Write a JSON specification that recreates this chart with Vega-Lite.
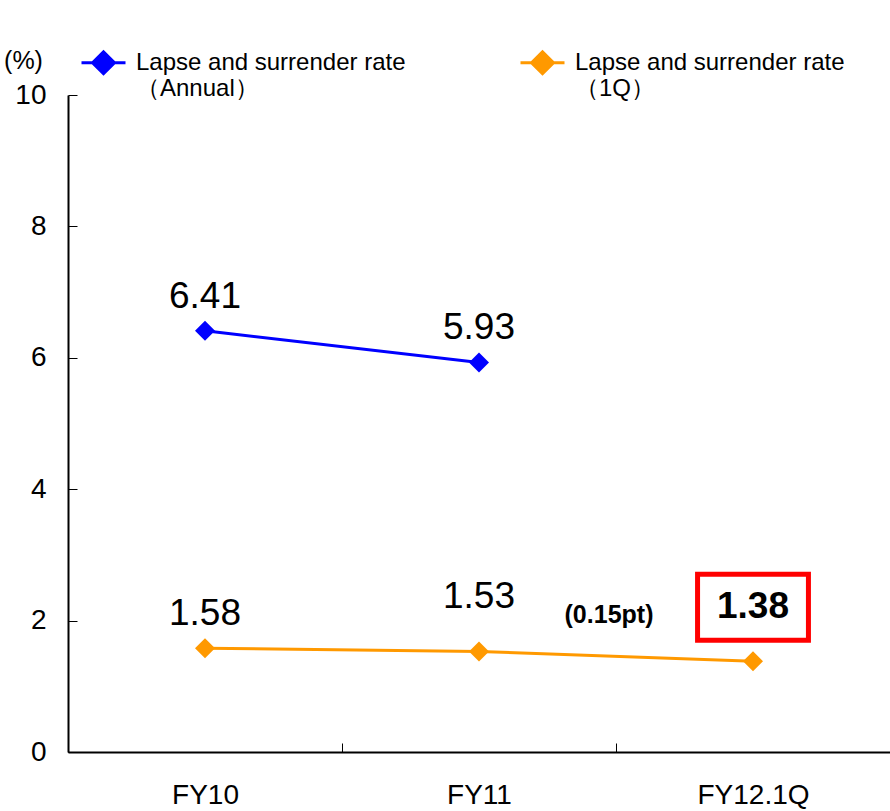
{
  "$schema": "https://vega.github.io/schema/vega-lite/v6.json",
  "width": 822,
  "height": 657,
  "autosize": {"type": "none"},
  "padding": {"left": 68, "top": 95, "right": 0, "bottom": 59},
  "background": "white",
  "config": {
    "font": "Liberation Sans",
    "view": {"stroke": null}
  },
  "datasets": {
    "rates": [
      {"period": "FY10", "series": "Annual", "value": 6.41, "label": "6.41"},
      {"period": "FY11", "series": "Annual", "value": 5.93, "label": "5.93"},
      {"period": "FY10", "series": "1Q", "value": 1.58, "label": "1.58"},
      {"period": "FY11", "series": "1Q", "value": 1.53, "label": "1.53"},
      {"period": "FY12.1Q", "series": "1Q", "value": 1.38, "label": "1.38"}
    ],
    "notes": [
      {"period": "FY12.1Q", "value": 1.38, "note": "(0.15pt)"}
    ]
  },
  "data": {"name": "rates"},
  "encoding": {
    "x": {
      "field": "period",
      "type": "nominal",
      "sort": ["FY10", "FY11", "FY12.1Q"],
      "scale": {"domain": ["FY10", "FY11", "FY12.1Q"], "paddingInner": 0, "paddingOuter": 0},
      "axis": {
        "title": null,
        "labelAngle": 0,
        "labelFontSize": 28,
        "labelColor": "black",
        "labelPadding": 38,
        "tickSize": -9,
        "tickBand": "extent",
        "tickColor": "black",
        "tickWidth": 1,
        "domainColor": "black",
        "domainWidth": 2
      }
    },
    "y": {
      "field": "value",
      "type": "quantitative",
      "scale": {"domain": [0, 10], "nice": false},
      "axis": {
        "values": [0, 2, 4, 6, 8, 10],
        "grid": false,
        "title": "(%)",
        "titleAngle": 0,
        "titleAlign": "center",
        "titleBaseline": "middle",
        "titleX": -45,
        "titleY": -35,
        "titleFontSize": 25,
        "titleFontWeight": "normal",
        "titleColor": "black",
        "labelFontSize": 28,
        "labelColor": "black",
        "labelPadding": 31,
        "tickSize": -9,
        "tickColor": "black",
        "tickWidth": 1,
        "domainColor": "black",
        "domainWidth": 2
      }
    },
    "color": {
      "field": "series",
      "type": "nominal",
      "scale": {"domain": ["Annual", "1Q"], "range": ["#0000FF", "#FF9900"]},
      "legend": {
        "title": null,
        "orient": "none",
        "legendX": 23,
        "legendY": -45,
        "direction": "horizontal",
        "columns": 2,
        "columnPadding": 108,
        "symbolType": "M-2,0H-1M-1,0L0,-1L1,0L0,1ZM1,0H2",
        "symbolSize": 484,
        "symbolStrokeWidth": 3,
        "labelFontSize": 24,
        "labelLineHeight": 29,
        "labelColor": "black",
        "labelOffset": 20,
        "labelLimit": 400,
        "labelExpr": "datum.label == 'Annual' ? ['Lapse and surrender rate', '（Annual）'] : ['Lapse and surrender rate', '（1Q）']",
        "encode": {
          "symbols": {
            "update": {
              "fill": {"signal": "datum.value == 'Annual' ? '#0066FF' : '#FF6600'"},
              "stroke": {"signal": "datum.value == 'Annual' ? '#0066FF' : '#FF6600'"}
            }
          }
        }
      }
    }
  },
  "layer": [
    {"mark": {"type": "line", "strokeWidth": 3}},
    {"mark": {"type": "point", "shape": "diamond", "filled": true, "size": 400, "opacity": 1}},
    {
      "transform": [{"filter": "datum.label != '1.38' && datum.label != '1.53'"}],
      "mark": {"type": "text", "fontSize": 37, "dy": -34, "color": "black"},
      "encoding": {"text": {"field": "label"}, "color": {"value": "black"}}
    },
    {
      "transform": [{"filter": "datum.label == '1.53'"}],
      "mark": {"type": "text", "fontSize": 37, "dy": -54, "color": "black"},
      "encoding": {"text": {"field": "label"}, "color": {"value": "black"}}
    },
    {
      "transform": [{"filter": "datum.label == '1.38'"}],
      "mark": {"type": "point", "shape": "M-1.68,-1H1.68V1H-1.68Z", "size": 4356, "filled": false, "stroke": "#FF0000", "strokeWidth": 5, "opacity": 1, "yOffset": -54},
      "encoding": {"color": {"value": "#FF0000"}}
    },
    {
      "transform": [{"filter": "datum.label == '1.38'"}],
      "mark": {"type": "text", "fontSize": 37, "fontWeight": "bold", "dy": -54, "color": "black"},
      "encoding": {"text": {"field": "label"}, "color": {"value": "black"}}
    },
    {
      "data": {"name": "notes"},
      "mark": {"type": "text", "fontSize": 25, "fontWeight": "bold", "dx": -144, "dy": -46, "color": "black"},
      "encoding": {"text": {"field": "note"}, "color": {"value": "black"}}
    }
  ]
}
